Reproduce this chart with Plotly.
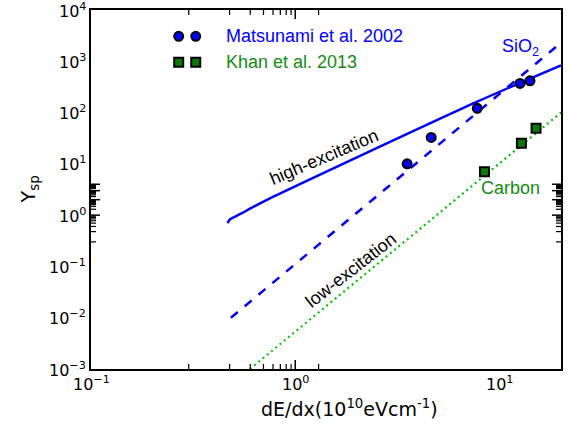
import math
import plotly.graph_objects as go

# Measured sputtering yields (Matsunami et al. 2002, SiO2)
matsunami_dedx = [3.53, 4.63, 7.78, 12.6, 14.1]
matsunami_ysp = [10.0, 32.8, 121.0, 370.0, 417.0]

# Measured sputtering yields (Khan et al. 2013, carbon)
khan_dedx = [8.44, 12.8, 15.1]
khan_ysp = [7.0, 25.1, 49.6]

# Model curves
high_dedx = [0.466, 0.480, 0.508, 0.548, 0.613, 0.707, 7.78, 20.0]
high_ysp = [0.697, 0.834, 0.935, 1.09, 1.40, 1.88, 163.0, 832.0]

sio2_low_dedx = [0.484, 20.0]
sio2_low_ysp = [0.01, 2300.0]

carbon_low_dedx = [0.60, 20.0]
carbon_low_ysp = [0.001, 100.0]

# Axis ticks
x_tickvals = [0.1, 1, 10]
x_ticktext = ["10<sup>\u22121</sup>", "10<sup>0</sup>", "10<sup>1</sup>"]
y_tickvals = [1e-3, 1e-2, 1e-1, 1, 10, 100, 1e3, 1e4]
y_ticktext = ["10<sup>\u22123</sup>", "10<sup>\u22122</sup>", "10<sup>\u22121</sup>",
              "10<sup>0</sup>", "10<sup>1</sup>", "10<sup>2</sup>",
              "10<sup>3</sup>", "10<sup>4</sup>"]

X_RANGE = [-1, math.log10(20)]
Y_RANGE = [-3, 4]

x_minor = [m * 10 ** k for k in (-1, 0, 1) for m in range(2, 10)
           if math.log10(m * 10 ** k) <= X_RANGE[1] + 1e-9]
y_minor = [m * 10 ** k for k in range(-3, 4) for m in range(2, 10)]

BLUE = "#0000ee"
MARK_BLUE = "#0000ff"
GREEN_TXT = "#168a16"
MARK_GREEN = "#0c780c"
DOT_GREEN = "#00c000"
AX_FONT = "DejaVu Sans"
TXT_FONT = "Liberation Sans, Arial"

MAJOR_LEN, MINOR_LEN = 9, 5
MAJOR_W, MINOR_W = 1.5, 1.2


def paper_to_x(f):
    return 10 ** (X_RANGE[0] + f * (X_RANGE[1] - X_RANGE[0]))


def paper_to_y(f):
    return 10 ** (Y_RANGE[0] + f * (Y_RANGE[1] - Y_RANGE[0]))


fig = go.Figure()

fig.add_trace(go.Scatter(x=high_dedx, y=high_ysp, mode="lines",
                         line=dict(color=BLUE, width=2.5, shape="spline", smoothing=0.8),
                         showlegend=False))
fig.add_trace(go.Scatter(x=sio2_low_dedx, y=sio2_low_ysp, mode="lines",
                         line=dict(color=BLUE, width=2.5, dash="9px,9px"),
                         showlegend=False))
fig.add_trace(go.Scatter(x=carbon_low_dedx, y=carbon_low_ysp, mode="lines",
                         line=dict(color=DOT_GREEN, width=2.2, dash="2px,3.5px"),
                         showlegend=False))
fig.add_trace(go.Scatter(x=matsunami_dedx, y=matsunami_ysp, mode="markers",
                         marker=dict(symbol="circle", size=9, color=MARK_BLUE,
                                     line=dict(color="black", width=2)),
                         showlegend=False))
fig.add_trace(go.Scatter(x=khan_dedx, y=khan_ysp, mode="markers",
                         marker=dict(symbol="square", size=9, color=MARK_GREEN,
                                     line=dict(color="black", width=2)),
                         showlegend=False))

# Legend keys (two symbols per entry), placed by fractions of the plot frame
key_x = [0.1866, 0.2228]
key_y_matsunami = 0.9266
key_y_khan = 0.8546
fig.add_trace(go.Scatter(x=[paper_to_x(f) for f in key_x],
                         y=[paper_to_y(key_y_matsunami)] * 2, mode="markers",
                         showlegend=False,
                         marker=dict(symbol="circle", size=9, color=MARK_BLUE,
                                     line=dict(color="black", width=2))))
fig.add_trace(go.Scatter(x=[paper_to_x(f) for f in key_x],
                         y=[paper_to_y(key_y_khan)] * 2, mode="markers",
                         showlegend=False,
                         marker=dict(symbol="square", size=9, color=MARK_GREEN,
                                     line=dict(color="black", width=2))))

# Frame: axis lines on all four sides; tick marks are drawn as short inward strokes
axis_common = dict(type="log", ticks="", showline=True, linewidth=2,
                   linecolor="black", mirror=True, showgrid=False,
                   zeroline=False, showticklabels=False)


def x_tick_strokes(v, length, width):
    lx = math.log10(v)
    stroke = dict(color="black", width=width)
    return [
        dict(type="line", xref="x", yref="paper", x0=lx, x1=lx,
             ysizemode="pixel", yanchor=0, y0=0, y1=length, line=stroke),
        dict(type="line", xref="x", yref="paper", x0=lx, x1=lx,
             ysizemode="pixel", yanchor=1, y0=0, y1=-length, line=stroke),
    ]


def y_tick_strokes(v, length, width):
    ly = math.log10(v)
    stroke = dict(color="black", width=width)
    return [
        dict(type="line", yref="y", xref="paper", y0=ly, y1=ly,
             xsizemode="pixel", xanchor=0, x0=0, x1=length, line=stroke),
        dict(type="line", yref="y", xref="paper", y0=ly, y1=ly,
             xsizemode="pixel", xanchor=1, x0=0, x1=-length, line=stroke),
    ]


tick_shapes = []
for v in x_tickvals:
    tick_shapes += x_tick_strokes(v, MAJOR_LEN, MAJOR_W)
for v in x_minor:
    tick_shapes += x_tick_strokes(v, MINOR_LEN, MINOR_W)
for v in y_tickvals:
    tick_shapes += y_tick_strokes(v, MAJOR_LEN, MAJOR_W)
for v in y_minor:
    tick_shapes += y_tick_strokes(v, MINOR_LEN, MINOR_W)

fig.update_layout(
    width=575, height=426,
    margin=dict(l=91, r=14, t=8, b=57),
    paper_bgcolor="white", plot_bgcolor="white",
    xaxis=dict(range=X_RANGE, **axis_common),
    yaxis=dict(range=Y_RANGE, **axis_common),
    shapes=tick_shapes,
    showlegend=False,
)

tick_font = dict(family=AX_FONT, size=16, color="black")
for v, t in zip(x_tickvals, x_ticktext):
    fig.add_annotation(xref="x", yref="paper", x=math.log10(v), y=0, text=t,
                       showarrow=False, xanchor="center", yanchor="top",
                       yshift=-2, font=tick_font)
for v, t in zip(y_tickvals, y_ticktext):
    fig.add_annotation(xref="paper", yref="y", x=0, y=math.log10(v), text=t,
                       showarrow=False, xanchor="right", yanchor="middle",
                       xshift=-3, font=tick_font)

annotations = [
    dict(text="dE/dx(10<sup>10</sup>eVcm<sup>-1</sup>)", x=0.549, y=-0.108,
         font=dict(family=AX_FONT, size=19, color="black")),
    dict(text="Y<sub>sp</sub>", x=-0.130, y=0.5, textangle=-90,
         font=dict(family=AX_FONT, size=19, color="black")),
    dict(text="Matsunami et al. 2002", x=0.283, y=key_y_matsunami, xanchor="left",
         font=dict(family=TXT_FONT, size=18, color=MARK_BLUE)),
    dict(text="Khan et al. 2013", x=0.283, y=key_y_khan, xanchor="left",
         font=dict(family=TXT_FONT, size=18, color=GREEN_TXT)),
    dict(text="high-excitation", x=0.4957, y=0.590, textangle=-23,
         font=dict(family=TXT_FONT, size=18, color="black")),
    dict(text="low-excitation", x=0.553, y=0.277, textangle=-38,
         font=dict(family=TXT_FONT, size=18, color="black")),
    dict(text="SiO<sub>2</sub>", x=0.913, y=0.895,
         font=dict(family=TXT_FONT, size=18, color=MARK_BLUE)),
    dict(text="Carbon", x=0.893, y=0.504,
         font=dict(family=TXT_FONT, size=18, color=GREEN_TXT)),
]
for a in annotations:
    a.setdefault("xanchor", "center")
    fig.add_annotation(xref="paper", yref="paper", showarrow=False,
                       yanchor="middle", **a)

fig.write_html("out.html")
